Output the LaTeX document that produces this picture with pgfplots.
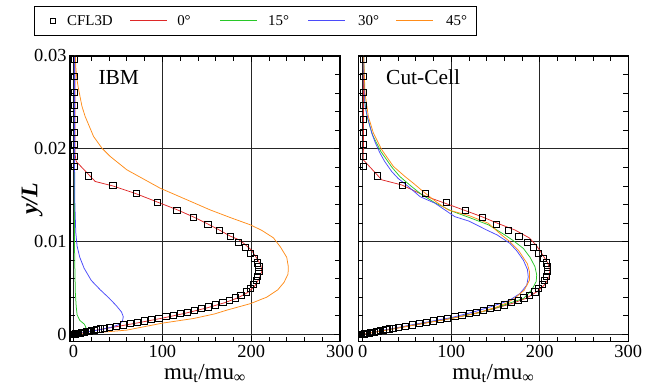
\documentclass[border=0pt]{standalone}
\usepackage{fontspec}
\setmainfont{Liberation Serif}
\usepackage{pgfplots}
\usepackage{pgfplotstable}
\pgfplotsset{compat=1.18}

\definecolor{cRed}{RGB}{222,40,40}
\definecolor{cGreen}{RGB}{40,200,40}
\definecolor{cBlue}{RGB}{75,75,250}
\definecolor{cOrange}{RGB}{255,140,25}

% CFL3D reference profile (same in both panels)
\pgfplotstableread{
x y
1 0.0296
1 0.0278
1 0.0261
1 0.02465
1 0.0232
1 0.0218
1 0.0205
1 0.0192
1 0.0181
16.9 0.01708
44.3 0.01607
70.5 0.01517
94.5 0.01423
116.3 0.0134
135 0.01261
151.2 0.01189
164.3 0.01117
176.3 0.01052
185.6 0.00991
193.1 0.00937
198.8 0.00872
203.6 0.00818
207 0.00771
208.5 0.00728
208.5 0.00678
207 0.00627
205.5 0.00584
202.5 0.00537
198.8 0.00494
194.3 0.00458
188.3 0.00422
181.9 0.00393
175.5 0.00368
168 0.00345
160 0.00318
152 0.00297
144 0.00277
136 0.00258
128 0.0024
120 0.00223
112 0.00206
104 0.0019
96 0.00174
88 0.00159
80 0.00144
72 0.0013
64 0.00116
56 0.00102
48 0.00089
40 0.00076
35 0.00067
30 0.00058
26 0.00051
23 0.00045
20 0.0004
17.5 0.00035
15 0.0003
12.5 0.00025
10 0.00021
8.5 0.00017
7 0.00014
5.5 0.00011
4 0.00009
3 0.00007
2 0.00005
1.5 0.00003
1 0.00002
0.5 0.00001
0.2 0.000005
0 0
}\cfl

% IBM runs
\pgfplotstableread{
x y
0 0
5 0.00007
15 0.00025
30 0.00052
50 0.00085
75 0.00128
100 0.00174
125 0.00225
150 0.00284
170 0.0034
185 0.00393
196 0.0045
204 0.0052
209 0.006
212 0.0068
211 0.0074
207 0.0081
200 0.0091
193 0.0097
186 0.0102
176 0.0106
164 0.01125
151 0.0119
135 0.01265
116 0.01345
94.5 0.01425
70.5 0.01515
44 0.016
24.4 0.01647
3 0.01863
1.5 0.0195
1.5 0.03
}\ibmA

\pgfplotstableread{
x y
0 0
6 0.0002
11 0.00043
14 0.00075
12 0.0011
7 0.0015
4 0.0021
3 0.003
2 0.0045
1.5 0.007
1 0.01
1 0.03
}\ibmB

\pgfplotstableread{
x y
0 0
15 0.00025
30 0.0005
42 0.00075
50 0.001
55 0.0014
56 0.0019
54 0.0024
48 0.0031
40 0.0039
30 0.0048
20 0.0058
12 0.0071
7 0.0083
4 0.0095
2.5 0.011
1.5 0.014
1 0.02
1 0.03
}\ibmC

\pgfplotstableread{
x y
0 0
22 0.00014
60 0.00045
100 0.0012
135 0.0017
159 0.0022
172.5 0.0026
199 0.0033
217.5 0.0040
230 0.0048
237 0.0056
241.5 0.0065
241.8 0.0073
240 0.0083
233 0.0094
225 0.0104
212 0.0112
199 0.0118
176 0.0126
154 0.0134
130 0.0144
97.5 0.01575
60 0.01773
41.3 0.01917
31.9 0.02007
22.5 0.02133
13 0.0235
9.4 0.0246
5.5 0.0265
3.8 0.0275
2.5 0.0288
2 0.030
}\ibmD

% Cut-cell runs
\pgfplotstableread{
x y
0 0
5 0.00007
15 0.00025
30 0.00052
50 0.00085
75 0.00128
100 0.00172
125 0.00222
150 0.0028
170 0.00336
185 0.0039
197 0.0046
205 0.0053
210 0.006
211.5 0.0069
209 0.0077
203 0.0086
196 0.0096
188 0.0104
172 0.01124
154 0.0119
134.4 0.01268
114 0.0134
92.9 0.01413
72.3 0.01484
44 0.0161
21.5 0.01665
0.7 0.0188
1 0.03
}\ccA

\pgfplotstableread{
x y
0 0
10 0.00019
30 0.00052
60 0.00106
100 0.00172
130 0.0023
152 0.0029
167 0.0034
181.4 0.00386
190.8 0.00476
196 0.0057
196.5 0.0064
194.6 0.00728
189 0.0083
181.4 0.00926
170 0.0101
160.7 0.0107
142 0.0118
120 0.0126
100 0.0133
82 0.01415
66 0.0151
53 0.0161
42 0.0170
33 0.0180
20.5 0.0197
11 0.0215
5 0.0234
2.4 0.0250
1 0.03
}\ccB

\pgfplotstableread{
x y
0 0
10 0.0002
30 0.00055
60 0.0011
100 0.0018
125 0.0024
144 0.00295
158 0.0034
166 0.00368
177.7 0.0044
185.3 0.0053
187 0.0062
186 0.0070
181.4 0.008
174 0.009
166.3 0.0098
152 0.0107
140 0.01124
120 0.0122
104 0.01268
81.6 0.01413
64.7 0.01484
51.5 0.01593
40 0.0168
32.7 0.01755
25 0.0186
19.5 0.01953
14 0.0207
10.2 0.0217
6 0.0232
2.6 0.02457
1.5 0.027
1 0.03
}\ccC

\pgfplotstableread{
x y
0 0
10 0.00018
30 0.0005
60 0.00104
100 0.0017
130 0.0023
150 0.0029
163 0.0034
171.3 0.00386
182.6 0.00476
188.3 0.00584
188.5 0.0067
186 0.0076
175.7 0.00908
166 0.0100
156.9 0.0107
141.8 0.01197
120 0.0128
96.7 0.0134
84 0.0142
68.4 0.01538
57 0.0163
47.8 0.0170
34.6 0.0181
21.5 0.0199
12 0.0217
6.3 0.0235
2.6 0.026
1 0.03
}\ccD

\pgfplotsset{
  panel/.style={
    scale only axis, width=270bp, height=285.7bp,
    xmin=-4, xmax=300, ymin=-0.0008, ymax=0.03,
    xtick={0,100,200,300}, xticklabels={0,100,200,300},
    ytick={0,0.01,0.02,0.03},
    minor x tick num=4, minor y tick num=4,
    tick align=inside, major tick length=6bp, minor tick length=5bp,
    grid=major, major grid style={black!85, line width=0.7bp},
    axis line style={line width=1.3bp},
    every tick/.style={black, line width=0.7bp},
    tick label style={font=\fontsize{18.5}{22}\selectfont},
    /pgf/number format/assume math mode=true,
    scaled ticks=false,
    xlabel={mu\textsubscript{t}/mu\textsubscript{∞}},
    xlabel style={at={(axis description cs:0.5,-0.1306)}, anchor=base,
      font=\fontsize{23}{27}\selectfont},
  },
  cfl/.style={only marks, mark=square, mark size=3.1bp, black,
    mark options={line width=0.65bp}},
  run/.style={line width=0.75bp, mark=none},
  % legend key for the symbols: one small square with padding around it
  cflkey/.style={legend image code/.code={%
      \path[draw=none, fill=none] (-9.4bp,0bp) -- (14bp,0bp);
      \draw[##1, mark size=2.5bp] plot coordinates {(0bp,0bp)};}},
  % legend key for a run: a line of 37bp with padding before and after it
  keyline/.style 2 args={legend image code/.code={%
      \path[draw=none, fill=none] (-#1,0bp) -- (#2,0bp);
      \draw[##1] (0bp,0bp) -- (37bp,0bp);}},
}

\begin{document}
\begin{tikzpicture}
\path[use as bounding box] (0,0) rectangle (660bp,385bp);

\begin{axis}[panel,
  at={(70bp,43.3bp)}, anchor=south west,
  yticklabels={0,0.01,0.02,0.03},
  ylabel={\textbf{\textit{y/L}}},
  ylabel style={at={(axis description cs:-0.1407,0.5)}, anchor=center,
    font=\fontsize{24}{28}\selectfont},
  legend columns=5,
  legend style={at={(axis description cs:-0.1322,1.176)}, anchor=north west,
    draw=black, line width=0.8bp, fill=white,
    font=\fontsize{15}{18}\selectfont,
    inner xsep=9bp, inner ysep=7bp,
    column sep=0bp,
    nodes={inner xsep=0bp, inner ysep=2bp}},
]
\addplot[cfl, cflkey] table {\cfl};
\addlegendentry{CFL3D}
\addplot[run, cRed, keyline={17.5bp}{47bp}] table {\ibmA};
\addlegendentry{0°}
\addplot[run, cGreen, keyline={29.5bp}{48bp}] table {\ibmB};
\addlegendentry{15°}
\addplot[run, cBlue, keyline={19bp}{50bp}] table {\ibmC};
\addlegendentry{30°}
\addplot[run, cOrange, keyline={17bp}{50bp}] table {\ibmD};
\addlegendentry{45°}
\node[anchor=base west, font=\fontsize{21.5}{25}\selectfont]
  at (rel axis cs:0.0926,0.901) {IBM};
\end{axis}

\begin{axis}[panel,
  at={(358.3bp,43.3bp)}, anchor=south west,
  yticklabels={},
  xmin=-5,
]
\addplot[cfl] table {\cfl};
\addplot[run, cRed] table {\ccA};
\addplot[run, cGreen] table {\ccB};
\addplot[run, cBlue] table {\ccC};
\addplot[run, cOrange] table {\ccD};
\node[anchor=base west, font=\fontsize{21.5}{25}\selectfont]
  at (rel axis cs:0.0904,0.901) {Cut-Cell};
\end{axis}
\end{tikzpicture}
\end{document}
